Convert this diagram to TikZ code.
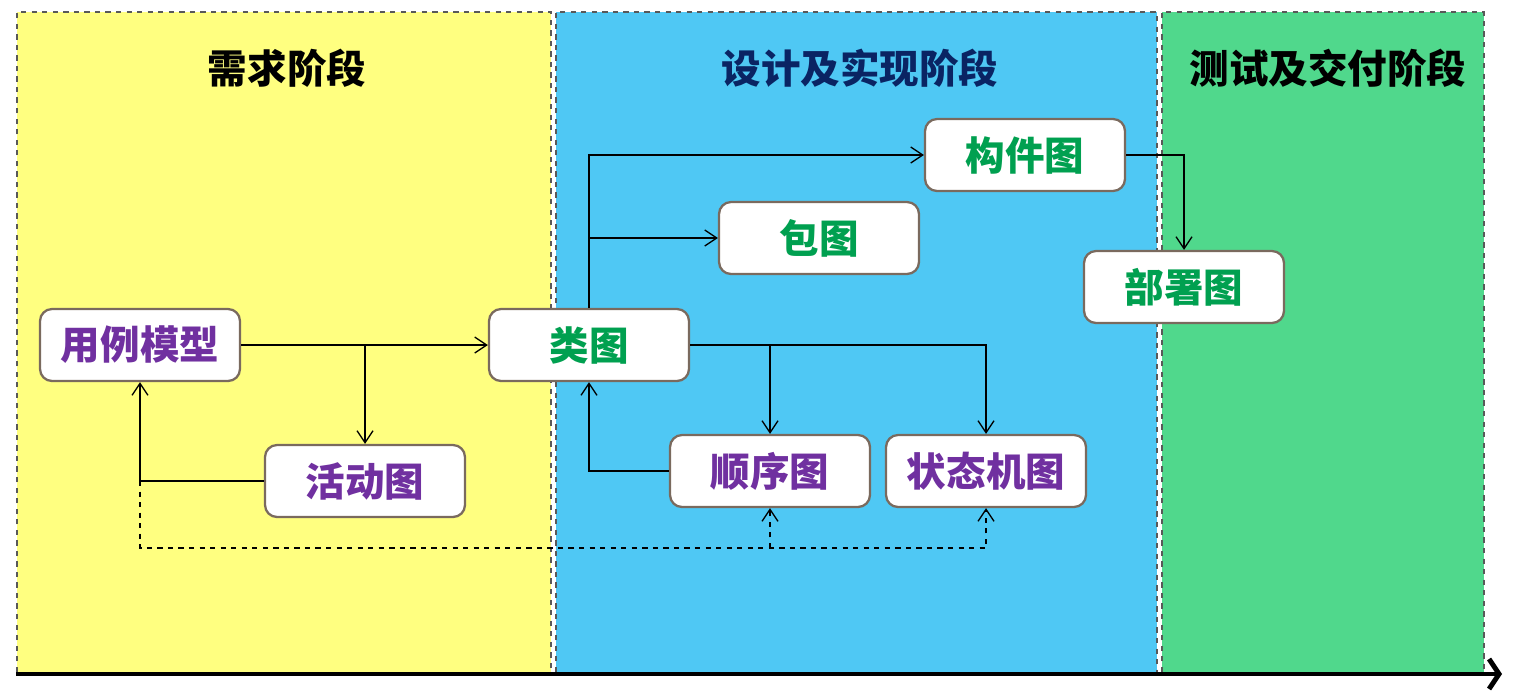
\documentclass[tikz,border=0pt]{standalone}
\usepackage{fontspec}
\usepackage{tikz}
\usetikzlibrary{arrows.meta}
\newfontfamily\cjk{Noto Sans CJK SC}

\definecolor{reqyellow}{HTML}{FFFF80}
\definecolor{desblue}{HTML}{4FC8F4}
\definecolor{testgreen}{HTML}{50D88C}
\definecolor{boxline}{HTML}{7A6A5E}
\definecolor{umlpurple}{HTML}{7030A0}
\definecolor{umlgreen}{HTML}{00A050}
\definecolor{navy}{HTML}{0A2463}

\begin{document}
\begin{tikzpicture}[x=0.02cm, y=-0.02cm,
  phase/.style={draw=black!65, dashed, line width=0.7pt},
  diagram/.style={draw=boxline, line width=1.3pt, fill=white, rounded corners=0.24cm,
    minimum width=4cm, minimum height=1.44cm, font=\cjk\bfseries\fontsize{22.5}{22.5}\selectfont},
  title/.style={font=\cjk\bfseries\fontsize{22.5}{22.5}\selectfont},
  link/.style={->, line width=0.75pt, >={Straight Barb[length=0.24cm,width=0.32cm]}}
]
  \useasboundingbox (0,0) rectangle (1523,697);

  % phases
  \fill[reqyellow] (17,12) rectangle (551,672);
  \fill[desblue] (556,12) rectangle (1157,672);
  \fill[testgreen] (1162,12) rectangle (1484,672);
  \draw[phase] (17,672) -- (17,12) -- (551,12) -- (551,672);
  \draw[phase] (556,672) -- (556,12) -- (1157,12) -- (1157,672);
  \draw[phase] (1162,672) -- (1162,12) -- (1484,12) -- (1484,672);

  % time axis
  \draw[line width=2.8pt, -{Straight Barb[length=0.2cm,width=0.6cm]}] (16,674) -- (1502,674);

  \node[title] (t1) at (287,68) {需求阶段};
  \node[title, text=navy] (t2) at (860,68) {设计及实现阶段};
  \node[title] (t3) at (1328,68) {测试及交付阶段};

  % diagrams
  \node[diagram, text=umlpurple] (uc)   at (140,345) {用例模型};
  \node[diagram, text=umlpurple] (act)  at (365,481) {活动图};
  \node[diagram, text=umlgreen]  (cls)  at (589,345) {类图};
  \node[diagram, text=umlgreen]  (comp) at (1025,155) {构件图};
  \node[diagram, text=umlgreen]  (pkg)  at (819,238) {包图};
  \node[diagram, text=umlgreen]  (dep)  at (1184,287) {部署图};
  \node[diagram, text=umlpurple] (seq)  at (770,471) {顺序图};
  \node[diagram, text=umlpurple] (stm)  at (986,471) {状态机图};

  \coordinate (fb) at (uc.south |- act.west);
  \coordinate (dl) at (140,548);

  \draw[link] (uc.east) -- (cls.west);
  \draw[link] (act.north |- uc.east) -- (act.north);
  \draw[link] (act.west) -| (uc.south);
  \draw[link] (cls.north) |- (comp.west);
  \draw[link] (cls.north |- pkg.west) -- (pkg.west);
  \draw[link] (cls.east) -| (stm.north);
  \draw[link] (seq.north |- cls.east) -- (seq.north);
  \draw[link] (seq.west) -| (cls.south);
  \draw[link] (comp.east) -| (dep.north);
  \draw[link, dashed] (fb) -- (dl) -| (stm.south);
  \draw[link, dashed] (seq.south |- dl) -- (seq.south);

\end{tikzpicture}
\end{document}
